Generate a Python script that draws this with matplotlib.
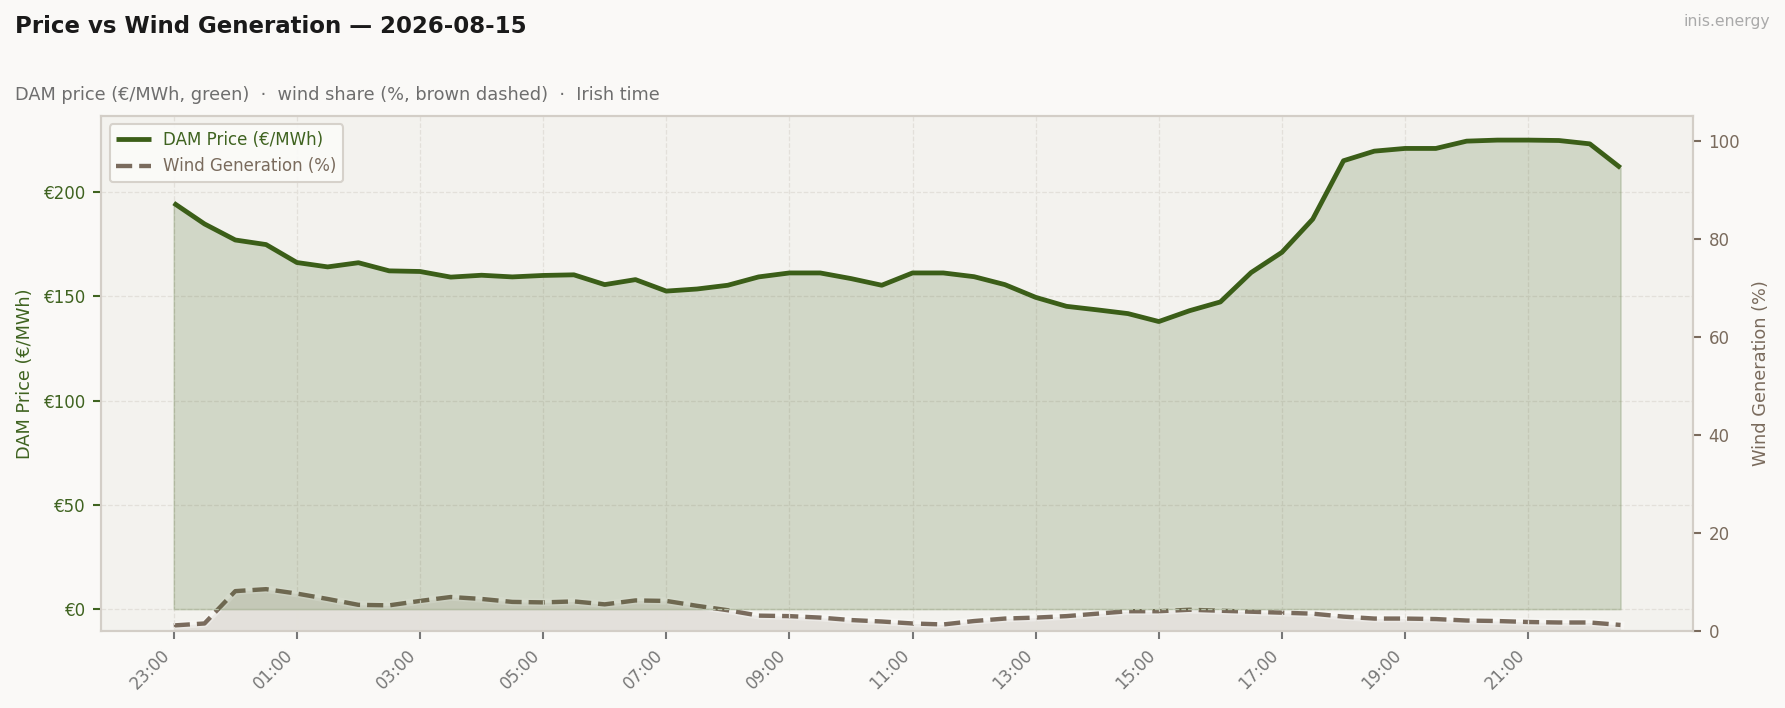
import matplotlib
matplotlib.use("Agg")
import matplotlib.pyplot as plt
import numpy as np

plt.rcParams['font.family'] = ['DejaVu Sans']

# ---- data (half-hourly, Irish time, 23:00 -> 22:30) ----
times = ["23:00", "23:30", "00:00", "00:30", "01:00", "01:30", "02:00", "02:30",
         "03:00", "03:30", "04:00", "04:30", "05:00", "05:30", "06:00", "06:30",
         "07:00", "07:30", "08:00", "08:30", "09:00", "09:30", "10:00", "10:30",
         "11:00", "11:30", "12:00", "12:30", "13:00", "13:30", "14:00", "14:30",
         "15:00", "15:30", "16:00", "16:30", "17:00", "17:30", "18:00", "18:30",
         "19:00", "19:30", "20:00", "20:30", "21:00", "21:30", "22:00", "22:30"]

price = [194.7, 184.7, 177.0, 174.8, 166.2, 164.1, 166.1, 162.2,
         161.9, 159.2, 160.1, 159.3, 160.0, 160.3, 155.6, 158.0,
         152.5, 153.5, 155.3, 159.3, 161.2, 161.2, 158.5, 155.3,
         161.2, 161.2, 159.4, 155.6, 149.5, 145.2, 143.5, 141.7,
         137.9, 143.1, 147.3, 161.4, 171.1, 187.0, 215.0, 219.6,
         220.9, 220.9, 224.4, 224.9, 224.9, 224.7, 223.1, 211.6]

wind = [1.1, 1.5, 8.1, 8.5, 7.6, 6.5, 5.3, 5.2,
        6.1, 6.9, 6.5, 5.9, 5.8, 6.0, 5.4, 6.2,
        6.1, 5.1, 4.2, 3.1, 3.0, 2.7, 2.2, 1.9,
        1.5, 1.3, 2.0, 2.5, 2.7, 3.0, 3.5, 4.0,
        4.0, 4.3, 4.1, 3.9, 3.7, 3.5, 2.9, 2.5,
        2.5, 2.4, 2.1, 2.0, 1.8, 1.7, 1.7, 1.2]

tick_labels = ["23:00", "01:00", "03:00", "05:00", "07:00", "09:00",
               "11:00", "13:00", "15:00", "17:00", "19:00", "21:00"]
price_ticks = [0, 50, 100, 150, 200]
wind_ticks = [0, 20, 40, 60, 80, 100]

# ---- style ----
GREEN = "#3b5e18"
GREEN_TXT = "#3f6320"
BROWN = "#7a6b5d"
FIG_BG = "#faf9f7"
AX_BG = "#f3f2ee"
SPINE = "#d3cec7"
GRID = "#e3e0da"

x = np.arange(len(times))
tick_pos = [times.index(t) for t in tick_labels]

fig = plt.figure(figsize=(11.9, 4.72), dpi=150, facecolor=FIG_BG)
ax = fig.add_axes([0.0568, 0.109, 0.8916, 0.727])

ax.fill_between(x, 0, price, color=GREEN, alpha=0.18, linewidth=0.8, zorder=2)
l1, = ax.plot(x, price, color=GREEN, lw=2.3, zorder=4, label="DAM Price (€/MWh)",
              solid_capstyle='butt')

ax.set_ylim(-10.4, 236.4)
ax.set_xlim(-2.35, len(times) - 1 + 2.35)
ax.set_yticks(price_ticks)
ax.set_yticklabels([f"€{v}" for v in price_ticks])
ax.set_xticks(tick_pos)
ax.set_xticklabels(tick_labels, rotation=45, ha='right')

ax.grid(True, color=GRID, linestyle='--', linewidth=0.6, zorder=0)
ax.set_axisbelow(True)

ax.tick_params(axis='y', colors=GREEN_TXT, labelsize=8, length=4, width=1)
ax.tick_params(axis='x', colors='#777777', labelsize=8, length=4, width=1)

ax.set_ylabel("DAM Price (€/MWh)", color=GREEN_TXT, fontsize=8.5)
ax.yaxis.set_label_coords(-0.0425, 0.5)

ax2 = ax.twinx()
ax2.fill_between(x, 0, wind, color=BROWN, alpha=0.13, linewidth=0, zorder=1)
ax2.plot(x, wind, color="#ffffff", lw=3.6, alpha=0.35, zorder=2)
l2, = ax2.plot(x, wind, color=BROWN, lw=2.1, linestyle='--', zorder=3,
               label="Wind Generation (%)")
ax2.set_ylim(0, 105)
ax2.set_yticks(wind_ticks)
ax2.tick_params(axis='y', colors=BROWN, labelsize=8, length=4, width=1)
ax2.set_ylabel("Wind Generation (%)", color=BROWN, fontsize=8.5)
ax2.yaxis.set_label_coords(1.037, 0.5)

for a in (ax, ax2):
    for s in a.spines.values():
        s.set_color(SPINE)
        s.set_linewidth(1.0)

# background on the twin (drawn first), primary axes transparent on top
ax2.set_zorder(0)
ax.set_zorder(1)
ax.patch.set_visible(False)
ax2.patch.set_visible(True)
ax2.patch.set_facecolor(AX_BG)

leg = ax.legend(handles=[l1, l2], loc='upper left', fontsize=8,
                frameon=True, facecolor='#fbfbf9', edgecolor=SPINE,
                framealpha=0.9, borderpad=0.4, handlelength=2.1,
                handletextpad=0.7)
for txt, col in zip(leg.get_texts(), [GREEN_TXT, BROWN]):
    txt.set_color(col)

fig.text(0.0084, 0.962, "Price vs Wind Generation — 2026-08-15", fontsize=11,
         fontweight='bold', color='#1a1a1a', va='center', ha='left')
fig.text(0.0084, 0.8655,
         "DAM price (€/MWh, green)  ·  wind share (%, brown dashed)  ·  Irish time",
         fontsize=8.5, color='#6e6e6e', va='center', ha='left')
fig.text(0.9916, 0.9695, "inis.energy", fontsize=7.5, color='#aaaaaa',
         va='center', ha='right')

fig.savefig("out.png", dpi=150, facecolor=FIG_BG)
